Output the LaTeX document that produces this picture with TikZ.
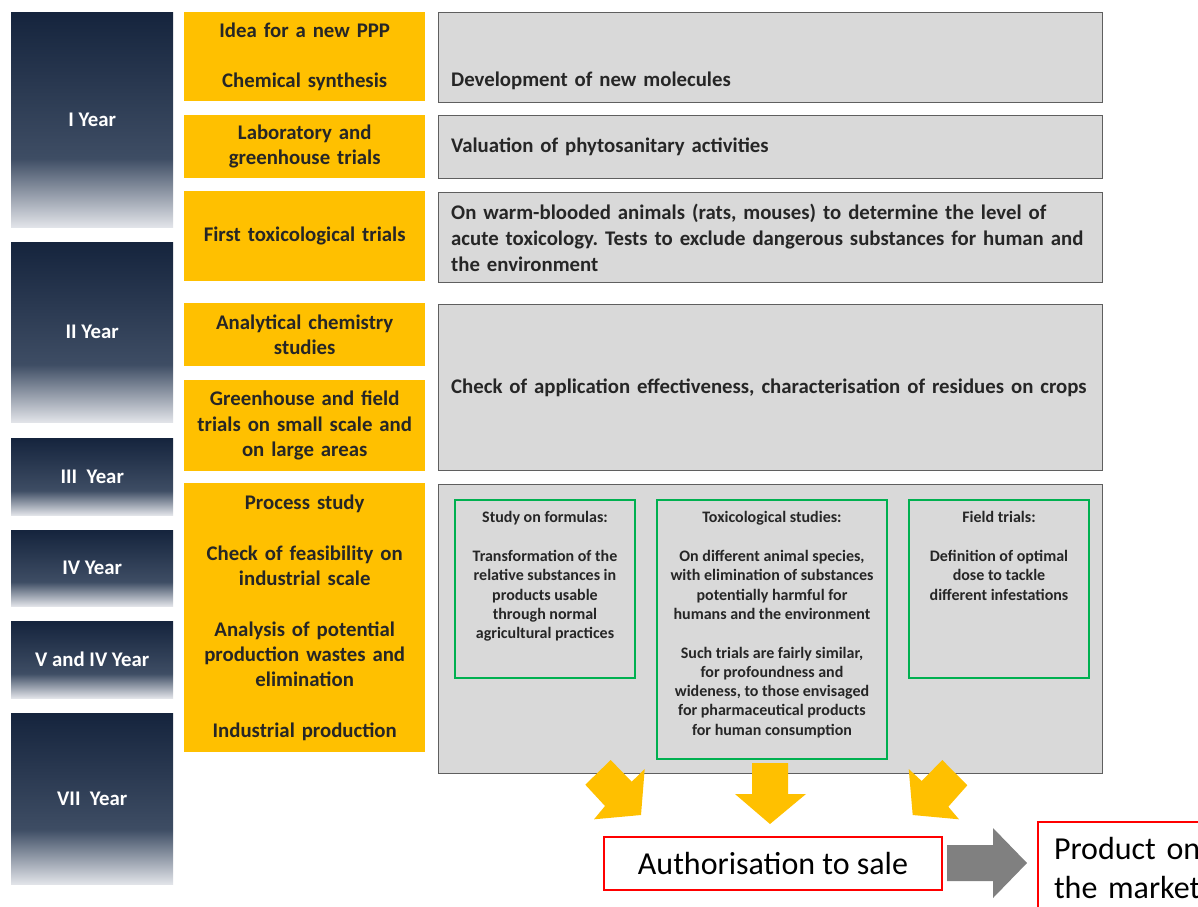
\documentclass[tikz,border=0pt]{standalone}
\usepackage{fontspec}
\setmainfont{Carlito}
\usepackage{xcolor}

\definecolor{ppporange}{HTML}{FFC000}
\definecolor{boxgray}{HTML}{D9D9D9}
\definecolor{edgegray}{HTML}{5F5F5F}
\definecolor{studygreen}{HTML}{00B050}
\definecolor{arrowgray}{HTML}{808080}
\definecolor{txtdark}{HTML}{262626}
\definecolor{yrdark}{HTML}{15243D}
\definecolor{yrmid}{HTML}{3E4D64}
\definecolor{yrlight}{HTML}{E2E4E9}

\pgfdeclareverticalshading{yearshade}{100bp}{color(0bp)=(yrlight); color(25bp)=(yrlight); color(41bp)=(yrmid); color(75bp)=(yrdark); color(100bp)=(yrdark)}

\newcommand{\stagefont}{\fontsize{20.8}{25.3}\selectfont\bfseries\frenchspacing}
\newcommand{\studyfont}{\fontsize{16}{19.3}\selectfont\bfseries\frenchspacing}
\newcommand{\salefont}{\fontsize{32}{39}\selectfont}

\begin{document}
\begin{tikzpicture}[x=1pt,y=1pt,yscale=-1,
  yearbar/.style={anchor=north west,inner sep=0pt,minimum width=162pt,shade,shading=yearshade,text=white,font=\stagefont},
  stagebox/.style={anchor=north west,inner xsep=4pt,inner ysep=0pt,minimum width=241pt,text width=233pt,align=center,fill=ppporange,text=txtdark,font=\stagefont},
  workbox/.style={anchor=north west,inner sep=0pt,minimum width=664pt,fill=boxgray,draw=edgegray,line width=1.3pt},
  worktext/.style={anchor=west,inner sep=0pt,text width=650pt,align=left,text=txtdark,font=\stagefont},
  studybox/.style={anchor=north west,inner sep=0pt,draw=studygreen,line width=2pt},
  studytext/.style={anchor=north,inner sep=0pt,align=center,text=txtdark,font=\studyfont},
  salebox/.style={anchor=north west,draw=red,line width=2pt,fill=white,text=black,font=\salefont}]
\useasboundingbox (0,0) rectangle (1198,906);
\clip (0,0) rectangle (1198,906);

% Year bars
\node [yearbar,minimum height=215pt] (y1) at (11,12) {I Year};
\node [yearbar,minimum height=180pt] (y2) at (11,242) {II Year};
\node [yearbar,minimum height=77pt] (y3) at (11,438) {III\ \ Year};
\node [yearbar,minimum height=76pt] (y4) at (11,530) {IV Year};
\node [yearbar,minimum height=77pt] (y5) at (11,621) {V and IV Year};
\node [yearbar,minimum height=171pt] (y7) at (11,713) {VII\ \ Year};

% Stage boxes
\node [stagebox,minimum height=89pt] (o1) at (184,12) {Idea for a new PPP\\~\\Chemical synthesis};
\node [stagebox,minimum height=63pt] (o2) at (184,115) {Laboratory and\\greenhouse trials};
\node [stagebox,minimum height=90pt] (o3) at (184,191) {First toxicological trials};
\node [stagebox,minimum height=63pt] (o4) at (184,303) {Analytical chemistry\\studies};
\node [stagebox,minimum height=91pt] (o5) at (184,380) {Greenhouse and field\\trials on small scale and\\on large areas};
\node [stagebox,minimum height=269pt] (o6) at (184,483) {Process study\\~\\Check of feasibility on\\industrial scale\\~\\Analysis of potential\\production wastes and\\elimination\\~\\Industrial production};

% Work boxes
\node [workbox,minimum height=90pt] (g1) at (438,12) {};
\node [workbox,minimum height=63pt] (g2) at (438,115) {};
\node [workbox,minimum height=90pt] (g3) at (438,192) {};
\node [workbox,minimum height=166pt] (g4) at (438,304) {};
\node [workbox,minimum height=289pt] (g5) at (438,484) {};
\node [worktext] (g1txt) at (451,81) {Development of new molecules};
\node [worktext] (g2txt) at ([xshift=13pt]g2.west) {Valuation of phytosanitary activities};
\node [worktext,font={\fontsize{20.8}{26}\selectfont\bfseries\frenchspacing}] (g3txt) at ([xshift=13pt]g3.west) {On warm-blooded animals (rats, mouses) to determine the level of\\acute toxicology. Tests to exclude dangerous substances for human and\\the environment};
\node [worktext] (g4txt) at ([xshift=13pt]g4.west) {Check of application effectiveness, characterisation of residues on crops};

% Study boxes
\node [studybox,minimum width=180pt,minimum height=178pt] (gb1) at (454,499) {};
\node [studybox,minimum width=230pt,minimum height=259pt] (gb2) at (656,499) {};
\node [studybox,minimum width=180pt,minimum height=178pt] (gb3) at (908,499) {};
\node [studytext] (gb1txt) at ([yshift=12.5pt]gb1.north) {Study on formulas:\\~\\Transformation of the\\relative substances in\\products usable\\through normal\\agricultural practices};
\node [studytext] (gb2txt) at ([yshift=12.5pt]gb2.north) {Toxicological studies:\\~\\On different animal species,\\with elimination of substances\\potentially harmful for\\humans and the environment\\~\\Such trials are fairly similar,\\for profoundness and\\wideness, to those envisaged\\for pharmaceutical products\\for human consumption};
\node [studytext] (gb3txt) at ([yshift=12.5pt]gb3.north) {Field trials:\\~\\Definition of optimal\\dose to tackle\\different infestations};

% Block arrows
\fill [ppporange] (610.7,760) -- (631.7,781.7) -- (644.7,769) -- (641,815) -- (594,819.3) -- (605,806) -- (585.3,784.7) -- cycle;
\fill [ppporange] (752,763) -- (788,763) -- (788,794) -- (806,794) -- (770,824) -- (735,794) -- (752,794) -- cycle;
\fill [ppporange] (942.3,760) -- (967.3,785.3) -- (948.3,806.7) -- (959,819.3) -- (912.7,815) -- (908.7,769) -- (921.7,781) -- cycle;

% Sale
\node [salebox,minimum width=338pt,minimum height=53pt,inner sep=0pt] (auth) at (603,836) {Authorisation to sale};
\node [salebox,minimum width=180pt,minimum height=91pt,inner xsep=16pt,inner ysep=0pt,text width=148pt,align=left] (market) at (1037,821) {Product on\\the market};
\fill [arrowgray] (947,845) -- (993,845) -- (993,828) -- (1027,863) -- (993,898) -- (993,881) -- (947,881) -- cycle;

\end{tikzpicture}
\end{document}
